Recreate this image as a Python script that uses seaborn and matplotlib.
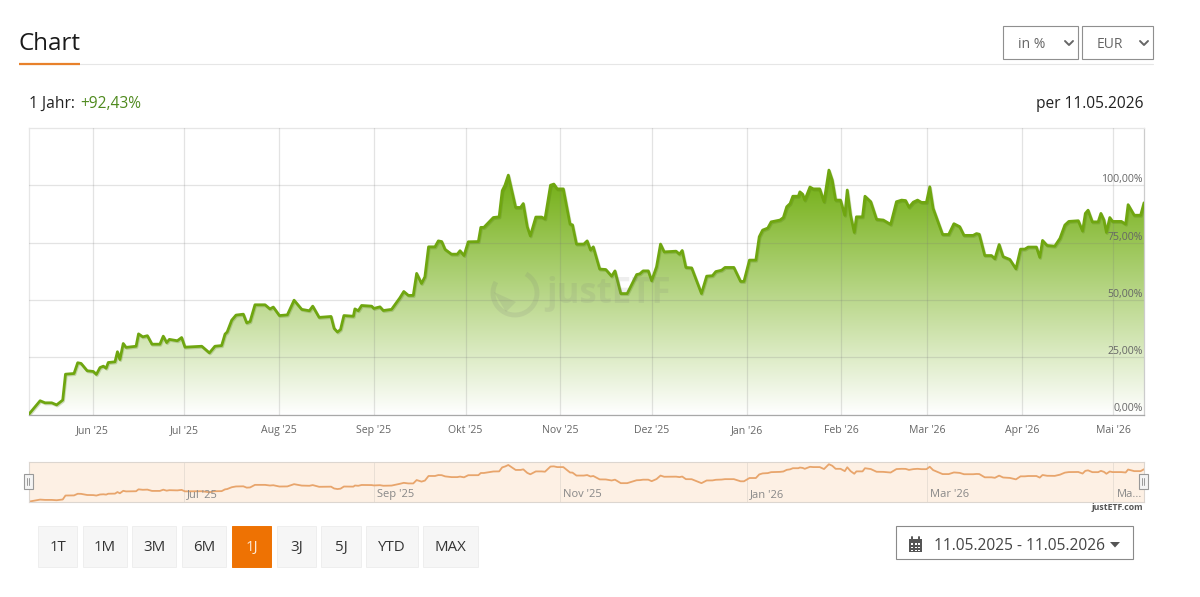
# Step-1: Import Libraries
import numpy as np
import pandas as pd
import seaborn as sns
import matplotlib.pyplot as plt
import matplotlib.dates as mdates
import matplotlib.patheffects as pe
from matplotlib.patches import Arc, Polygon, Rectangle

# Step-2: Data (days since start date, return in %)
start_date = "2025-05-11"
end_date = "2026-05-11"

days = [
    0, 0.3, 3.8, 5.4, 7.6, 9.2, 11.2, 12.1, 14.9, 16.1, 17.2, 19.2, 21.2, 22.2, 23.4, 24.5, 25.4, 26.1, 28.3, 29.1,
    29.9, 31.0, 31.9, 35.2, 36.0, 37.4, 38.9, 40.4, 43.0, 44.1, 45.2, 46.1, 48.7, 50.1, 51.2, 56.7, 59.2, 61.0, 63.2, 64.3,
    65.0, 66.5, 67.9, 70.3, 71.4, 72.5, 74.1, 77.4, 79.0, 80.1, 82.1, 84.7, 86.9, 89.4, 91.9, 93.0, 95.1, 99.0, 100.0, 101.1,
    102.1, 103.2, 106.3, 106.8, 107.9, 109.0, 112.3, 113.0, 115.0, 116.1, 118.8, 121.5, 122.8, 124.3, 125.9, 127.0, 128.6, 129.7, 130.9, 133.0,
    134.1, 135.2, 136.3, 138.4, 140.3, 141.2, 142.5, 143.9, 147.2, 148.0, 149.0, 152.1, 154.0, 155.0, 155.9, 157.0, 159.4, 161.0, 161.9, 163.2,
    164.2, 166.0, 167.9, 169.0, 170.8, 171.9, 173.0, 175.0, 177.2, 178.0, 179.3, 181.7, 182.8, 183.9, 184.8, 186.9, 188.9, 190.8, 191.9, 193.8,
    195.9, 199.0, 200.0, 201.1, 202.8, 203.9, 205.5, 206.8, 208.0, 211.9, 213.0, 213.9, 215.1, 217.0, 220.2, 221.9, 223.8, 224.9, 226.8, 227.9,
    230.8, 233.0, 234.1, 235.9, 238.0, 239.1, 240.2, 241.9, 243.0, 245.9, 247.0, 248.1, 249.2, 250.1, 251.9, 252.4, 253.3, 254.0, 255.7, 256.8,
    258.9, 260.3, 261.9, 263.0, 264.1, 265.7, 267.1, 267.9, 269.0, 270.2, 270.9, 272.9, 273.7, 275.6, 277.5, 279.7, 282.1, 284.0, 285.7, 287.0,
    288.1, 289.5, 290.9, 292.2, 293.8, 294.9, 296.0, 299.1, 301.1, 302.8, 304.7, 306.1, 309.1, 310.2, 311.1, 312.9, 315.1, 316.2, 317.6, 318.9,
    321.1, 323.1, 324.6, 326.0, 327.1, 329.8, 330.9, 331.8, 333.3, 335.8, 337.5, 339.1, 340.4, 343.5, 344.9, 345.8, 346.7, 348.1, 350.0, 350.9,
    351.9, 352.7, 353.8, 354.7, 357.6, 359.0, 359.8, 361.8, 363.9, 365,
]
returns = [
    0, 0.4, 6.0, 5.1, 5.1, 4.2, 6.3, 17.6, 17.9, 22.6, 22.3, 19.1, 18.8, 17.5, 20.5, 21.1, 20.2, 22.7, 23.0, 27.4,
    24.0, 31.0, 29.3, 29.8, 35.2, 33.9, 34.4, 30.7, 30.7, 34.2, 31.4, 32.8, 32.2, 33.6, 29.4, 29.8, 26.9, 29.8, 30.1, 35.1,
    36.0, 41.2, 43.4, 43.8, 40.0, 40.6, 47.9, 47.9, 46.1, 46.9, 43.2, 43.5, 49.9, 45.9, 45.3, 47.3, 42.4, 42.8, 37.6, 36.0,
    37.1, 43.2, 42.9, 46.1, 45.3, 47.6, 47.3, 46.3, 47.0, 45.4, 45.9, 50.9, 53.7, 52.0, 52.0, 61.6, 57.2, 60.1, 73.2, 73.2,
    75.8, 75.5, 72.1, 70.0, 70.0, 71.5, 69.4, 75.4, 75.5, 81.7, 81.7, 86.0, 86.3, 97.7, 100.1, 104.5, 90.4, 90.4, 92.1, 82.0,
    78.0, 86.2, 86.2, 85.4, 100.1, 100.6, 98.5, 98.5, 83.1, 82.8, 74.4, 74.4, 75.8, 71.8, 73.2, 63.5, 63.3, 60.4, 62.7, 52.8,
    52.8, 61.1, 61.4, 62.7, 62.7, 58.4, 64.5, 74.4, 71.0, 71.3, 70.0, 71.6, 64.2, 64.0, 52.8, 60.4, 60.6, 62.4, 63.0, 64.2,
    64.2, 58.1, 58.1, 67.4, 67.4, 77.6, 80.5, 81.4, 84.1, 84.9, 86.0, 90.7, 92.1, 95.3, 95.3, 97.2, 96.2, 93.6, 99.3, 98.5,
    98.5, 92.9, 106.7, 102.3, 93.6, 93.6, 87.0, 98.0, 87.0, 79.5, 86.3, 86.3, 95.3, 92.9, 85.2, 84.9, 83.0, 92.9, 93.6, 93.4,
    90.5, 92.7, 93.6, 92.6, 92.6, 99.4, 90.0, 78.6, 78.6, 83.3, 82.0, 78.2, 78.2, 79.0, 78.7, 69.4, 69.4, 68.0, 74.2, 68.9,
    67.7, 63.6, 72.2, 72.2, 73.1, 73.1, 68.6, 76.0, 73.8, 73.5, 76.9, 82.7, 84.3, 84.6, 80.1, 87.8, 89.2, 84.1, 84.1, 87.8,
    84.9, 79.5, 86.0, 84.3, 84.3, 83.1, 91.6, 87.0, 87.0, 92.43,
]

month_dates = ["2025-06-01", "2025-07-01", "2025-08-01", "2025-09-01", "2025-10-01", "2025-11-01",
               "2025-12-01", "2026-01-01", "2026-02-01", "2026-03-01", "2026-04-01", "2026-05-01"]
month_labels = ["Jun '25", "Jul '25", "Aug '25", "Sep '25", "Okt '25", "Nov '25",
                "Dez '25", "Jan '26", "Feb '26", "Mar '26", "Apr '26", "Mai '26"]
y_ticks = [0, 25, 50, 75, 100]
y_labels = ["0,00%", "25,00%", "50,00%", "75,00%", "100,00%"]
nav_dates = ["2025-07-01", "2025-09-01", "2025-11-01", "2026-01-01", "2026-03-01", "2026-05-01"]
nav_labels = ["Jul '25", "Sep '25", "Nov '25", "Jan '26", "Mar '26", "Ma..."]
range_buttons = ["1T", "1M", "3M", "6M", "1J", "3J", "5J", "YTD", "MAX"]

# Step-3: Set theme
sns.set_theme(style="white")
plt.rcParams["font.family"] = ["Open Sans", "DejaVu Sans"]

df = pd.DataFrame({"date": pd.Timestamp(start_date) + pd.to_timedelta(days, unit="D"), "value": returns})
x_min, x_max = pd.Timestamp(start_date), pd.Timestamp(end_date)

W, H = 1200, 597
fig = plt.figure(figsize=(W / 100, H / 100), dpi=100, facecolor="white")


def px_axes(x0, y0, x1, y1):
    return fig.add_axes([x0 / W, 1 - y1 / H, (x1 - x0) / W, (y1 - y0) / H])


# Step-4: Main chart
ax = px_axes(28.5, 127.5, 1144, 414.5)
ax.set_ylim(0, 125.3)

# gradient area, clipped to the region under the line
area = ax.fill_between(df["date"], df["value"], 0, color="none", lw=0)
x_num = mdates.date2num([x_min, x_max])
grad = np.linspace(0, 1, 256).reshape(-1, 1)
top_col = np.array([0.44, 0.68, 0.06])
rgb = 1 + (top_col - 1) * grad[..., None]
im = ax.imshow(rgb, extent=[x_num[0], x_num[1], 0, 106], origin="lower", aspect="auto", zorder=1)
im.set_clip_path(area.get_paths()[0], transform=ax.transData)

ax.set_axisbelow(False)
ax.grid(True, color="#777777", alpha=0.2, lw=0.9, zorder=2)

sns.lineplot(data=df, x="date", y="value", ax=ax, color="#6fa610", lw=2.0, estimator=None, sort=False, zorder=3,
             path_effects=[pe.SimpleLineShadow(offset=(0.6, -0.8), shadow_color="#4f7a10", alpha=0.25), pe.Normal()])

ax.set_xlim(x_min, x_max)
ax.set_ylim(0, 125.3)
ax.set_xlabel("")
ax.set_ylabel("")
ax.set_xticks(pd.to_datetime(month_dates))
ax.set_xticklabels(month_labels)
ax.set_yticks(y_ticks)
ax.set_yticklabels(y_labels)
ax.tick_params(axis="x", length=0, pad=7.5, labelsize=7.6, labelcolor="#666666")
ax.tick_params(axis="y", length=0, left=False, labelleft=False, right=True, labelright=True, pad=-1,
               labelsize=7.6, labelcolor="#666666")
for lab in ax.get_yticklabels():
    lab.set_ha("right")
    lab.set_va("bottom")
    lab.set_zorder(6)
for side, col in zip(["left", "top", "right", "bottom"], ["#e6e6e6", "#e6e6e6", "#cccccc", "#a8a8a8"]):
    ax.spines[side].set_color(col)
    ax.spines[side].set_linewidth(0.9)

# Step-5: Small navigator below
nav = px_axes(28.5, 462, 1144, 501.7)
nav.set_facecolor("#fdf0e4")
sns.lineplot(data=df, x="date", y="value", ax=nav, color="#e8a56c", lw=1.3, estimator=None, sort=False)
nav.set_xlim(x_min, x_max)
nav.set_ylim(0, 113)
nav.set_xlabel("")
nav.set_ylabel("")
nav.set_yticks([])
nav.set_xticks(pd.to_datetime(nav_dates))
nav.set_xticklabels([])
nav.tick_params(axis="x", length=0)
nav.grid(True, axis="x", color="#e9dfd5", lw=0.7)
for d, lab in zip(nav_dates, nav_labels):
    nav.annotate(lab, (pd.Timestamp(d), 0), xytext=(3, 7), textcoords="offset pixels",
                 fontsize=8, color="#888888", va="center", ha="left")
for s in nav.spines.values():
    s.set_color("#dcd6d0")
    s.set_linewidth(0.8)

# Step-6: Page elements around the chart, drawn in pixel coordinates
ui = fig.add_axes([0, 0, 1, 1], zorder=10)
ui.set_xlim(0, W)
ui.set_ylim(H, 0)
ui.axis("off")
ui.patch.set_alpha(0)

ui.text(19, 44.5, "Chart", fontsize=17.4, color="#1a1a1a", va="center", ha="left")
ui.plot([19, 1153], [63.5, 63.5], color="#e6e6e6", lw=0.8)
ui.plot([19, 80], [63.5, 63.5], color="#e8812b", lw=1.6, solid_capstyle="butt")

ui.text(29, 104, "1 Jahr:", fontsize=11.2, color="#222222", va="center", ha="left")
ui.text(80, 104, "+92,43%", fontsize=11.2, color="#4f8a1e", va="center", ha="left")
ui.text(1143, 104, "per 11.05.2026", fontsize=11.2, color="#222222", va="center", ha="right")

# select boxes top right
for x0, x1, lab, tx in [(1003, 1078, "in %", 1032), (1082, 1153, "EUR", 1110)]:
    ui.add_patch(Rectangle((x0, 26), x1 - x0, 33, fc="white", ec="#8f8f8f", lw=0.8))
    ui.text(tx, 44, lab, fontsize=10, color="#666666", va="center", ha="center")
    ui.plot([x1 - 13, x1 - 9, x1 - 5], [41, 45, 41], color="#666666", lw=1.4)

# watermark
ui.add_patch(Arc((515, 293), 44, 44, theta1=-60, theta2=210, color="#777777", alpha=0.14, lw=3.5))
ui.add_patch(Polygon([[494, 292], [516, 302], [506, 312]], fc="#777777", alpha=0.14, lw=0))
ui.text(546, 294, "justETF", fontsize=25, fontweight="bold", color="#777777", alpha=0.12, va="center", ha="left")

# navigator handles
for hx in [24, 1139]:
    ui.add_patch(Rectangle((hx, 474), 8.5, 15, fc="#f4f4f4", ec="#999999", lw=0.8))
    ui.plot([hx + 3.2, hx + 3.2], [478, 485], color="#999999", lw=0.7)
    ui.plot([hx + 5.3, hx + 5.3], [478, 485], color="#999999", lw=0.7)

ui.text(1143, 508, "justETF.com", fontsize=6.3, fontweight="bold", color="#555555", va="center", ha="right")

# range buttons
btn_edges = [(38, 77), (83, 127), (132, 176), (182, 226), (232, 271), (277, 316), (321, 361), (366, 418), (423, 478)]
for (x0, x1), lab in zip(btn_edges, range_buttons):
    active = lab == "1J"
    ui.add_patch(Rectangle((x0, 526), x1 - x0, 41, fc="#ee7203" if active else "#f6f6f6",
                           ec="#ee7203" if active else "#eeeeee", lw=0.7))
    ui.text((x0 + x1) / 2, 547.5, lab, fontsize=10.8, color="#fde9d6" if active else "#333333",
            va="center", ha="center")

# date range dropdown
ui.add_patch(Rectangle((896, 526), 237, 33, fc="white", ec="#8a8a8a", lw=0.8))
ui.add_patch(Rectangle((908.5, 538.5), 13.5, 13.5, fc="#555555", ec="none"))
for gx in [911, 914.5, 918]:
    for gy in [543, 546.5, 549.5]:
        ui.add_patch(Rectangle((gx, gy), 2, 1.8, fc="white", ec="none"))
ui.plot([912, 912], [536.5, 539.5], color="#555555", lw=1.4)
ui.plot([918.5, 918.5], [536.5, 539.5], color="#555555", lw=1.4)
ui.text(934, 545.5, "11.05.2025 - 11.05.2026", fontsize=11.2, color="#444444", va="center", ha="left")
ui.add_patch(Polygon([[1110, 542], [1120, 542], [1115, 547.5]], fc="#555555", ec="none"))

# Step-7: Save
fig.savefig("out.png", dpi=100, facecolor="white")
